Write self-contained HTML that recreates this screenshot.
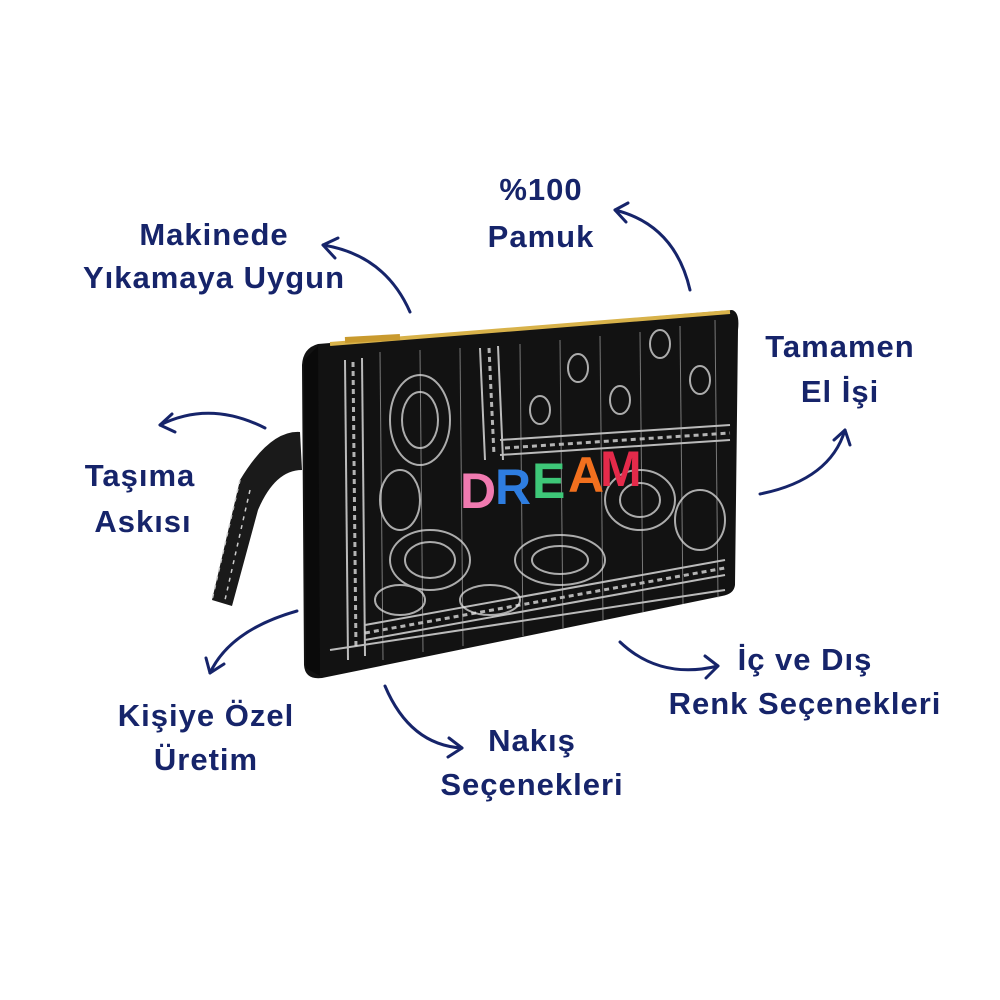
<!DOCTYPE html>
<html><head><meta charset="utf-8"><style>
body{margin:0;background:#fff;}
svg{display:block}
.t{font-family:"Liberation Sans",sans-serif;font-weight:bold;font-size:31px;fill:#16246a;text-anchor:middle;letter-spacing:1px}
.a{fill:none;stroke:#16246a;stroke-width:3;stroke-linecap:round;stroke-linejoin:round}
</style></head><body>
<svg width="1000" height="1000" viewBox="0 0 1000 1000">
<!-- strap -->
<path d="M300,432 Q270,430 240,480 L212,600 L232,606 L258,510 Q275,470 302,470 Z" fill="#1a1a1a"/>
<path d="M240,480 L212,600 M250,490 L225,600" stroke="#ccc" stroke-width="1.5" stroke-dasharray="4 5" fill="none"/>
<!-- bag body -->
<path d="M318,344 L732,310 Q740,312 738,330 L735,585 Q734,594 722,596 L322,678 Q305,680 304,665 L302,365 Q303,348 318,344 Z" fill="#121212"/>
<path d="M304,360 L318,346 L320,676 L306,668 Z" fill="#0a0a0a"/>
<!-- zipper -->
<path d="M330,344 L730,312" stroke="#d8b24a" stroke-width="4"/>
<path d="M345,340 L400,337" stroke="#c99a2e" stroke-width="6"/>
<!-- pattern: border bands -->
<g fill="none" stroke="#d9d9d9" stroke-width="2" opacity="0.85">
<path d="M345,360 L348,660"/>
<path d="M362,358 L365,656"/>
<path d="M365,640 L725,575"/>
<path d="M365,625 L725,560"/>
<path d="M480,348 L485,460"/>
<path d="M498,346 L503,460"/>
<path d="M500,440 L730,425"/>
<path d="M500,455 L730,440"/>
<path d="M330,650 L725,590"/>
</g>
<g fill="none" stroke="#ddd" stroke-width="3" stroke-dasharray="5 4" opacity="0.8">
<path d="M353,362 L356,650"/>
<path d="M489,348 L494,455"/>
<path d="M365,633 L725,568"/>
<path d="M505,448 L730,433"/>
</g>
<g stroke="#bbb" stroke-width="1" opacity="0.6">
<path d="M380,352 L383,660"/><path d="M420,350 L423,652"/><path d="M460,348 L463,646"/>
<path d="M520,344 L523,636"/><path d="M560,340 L563,628"/><path d="M600,336 L603,620"/>
<path d="M640,332 L643,612"/><path d="M680,326 L683,604"/><path d="M715,320 L718,598"/>
</g>
<g fill="none" stroke="#e0e0e0" stroke-width="2" opacity="0.75">
<ellipse cx="420" cy="420" rx="30" ry="45"/><ellipse cx="430" cy="560" rx="40" ry="30"/>
<ellipse cx="560" cy="560" rx="45" ry="25"/><ellipse cx="640" cy="500" rx="35" ry="30"/>
<ellipse cx="700" cy="520" rx="25" ry="30"/><ellipse cx="540" cy="410" rx="10" ry="14"/>
<ellipse cx="578" cy="368" rx="10" ry="14"/><ellipse cx="660" cy="344" rx="10" ry="14"/>
<ellipse cx="700" cy="380" rx="10" ry="14"/><ellipse cx="620" cy="400" rx="10" ry="14"/>
<ellipse cx="400" cy="600" rx="25" ry="15"/>
<ellipse cx="420" cy="420" rx="18" ry="28"/><ellipse cx="430" cy="560" rx="25" ry="18"/>
<ellipse cx="560" cy="560" rx="28" ry="14"/><ellipse cx="640" cy="500" rx="20" ry="17"/>
<ellipse cx="400" cy="500" rx="20" ry="30"/><ellipse cx="490" cy="600" rx="30" ry="15"/>
</g>
<!-- DREAM -->
<g font-family="Liberation Sans,sans-serif" font-weight="bold" font-size="50">
<text x="460" y="508" fill="#f07ab0">D</text>
<text x="495" y="504" fill="#2e7de0">R</text>
<text x="532" y="498" fill="#3ec778">E</text>
<text x="568" y="492" fill="#f2701e">A</text>
<text x="600" y="486" fill="#e52a4a">M</text>
</g>
<!-- labels -->
<text class="t" x="214" y="245">Makinede</text>
<text class="t" x="214" y="288">Yıkamaya Uygun</text>
<text class="t" x="541" y="200">%100</text>
<text class="t" x="541" y="247">Pamuk</text>
<text class="t" x="840" y="357">Tamamen</text>
<text class="t" x="840" y="402">El İşi</text>
<text class="t" x="140" y="486">Taşıma</text>
<text class="t" x="143" y="532">Askısı</text>
<text class="t" x="206" y="726">Kişiye Özel</text>
<text class="t" x="206" y="770">Üretim</text>
<text class="t" x="532" y="751">Nakış</text>
<text class="t" x="532" y="795">Seçenekleri</text>
<text class="t" x="805" y="670">İç ve Dış</text>
<text class="t" x="805" y="714">Renk Seçenekleri</text>
<!-- arrows -->
<path class="a" d="M410,312 Q385,255 323,245"/><path class="a" d="M338,238 L323,245 L335,258"/>
<path class="a" d="M690,290 Q675,225 615,210"/><path class="a" d="M628,203 L615,210 L626,222"/>
<path class="a" d="M760,494 Q830,480 845,430"/><path class="a" d="M834,440 L845,430 L850,445"/>
<path class="a" d="M265,428 Q210,400 160,425"/><path class="a" d="M172,414 L160,425 L175,432"/>
<path class="a" d="M297,611 Q230,630 210,673"/><path class="a" d="M206,658 L210,673 L224,664"/>
<path class="a" d="M385,686 Q410,745 462,748"/><path class="a" d="M449,738 L462,748 L448,757"/>
<path class="a" d="M620,642 Q660,680 718,666"/><path class="a" d="M705,656 L718,666 L706,678"/>
</svg>
</body></html>
